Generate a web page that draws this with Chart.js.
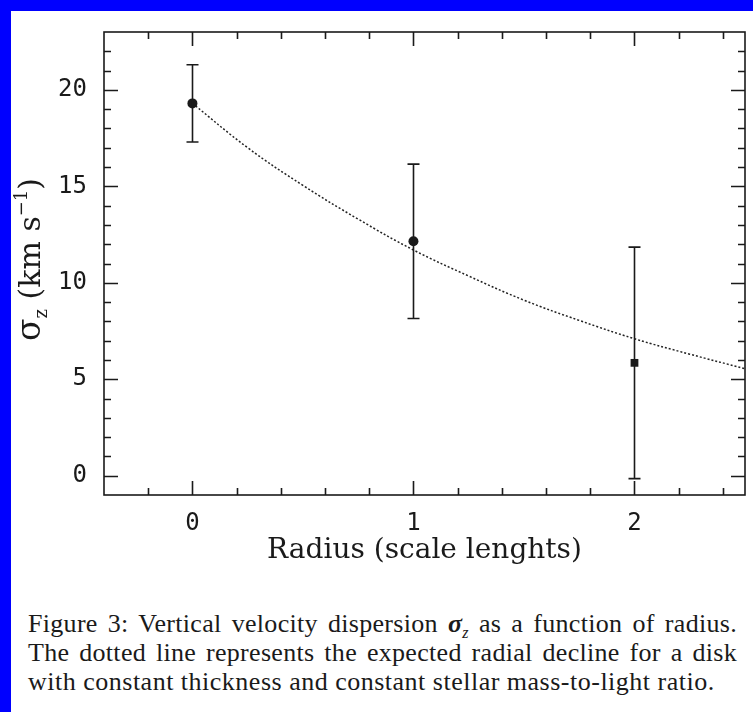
<!DOCTYPE html>
<html>
<head>
<meta charset="utf-8">
<title>Vertical velocity dispersion</title>
<script src="https://cdn.jsdelivr.net/npm/chart.js@4/dist/chart.umd.min.js"></script>
<style>
  html, body { margin: 0; padding: 0; }
  body { width: 753px; height: 712px; background: #0000ff; position: relative; overflow: hidden; }
  #panel { position: absolute; left: 11px; top: 11px; right: 0; bottom: 0; background: #fff; }
  #wrap { position: absolute; left: 0; top: 0; width: 753px; height: 590px; }
  #caption {
    position: absolute; left: 28px; top: 609px; width: 709px;
    font-family: "Liberation Serif", "Times New Roman", serif;
    font-size: 26px; line-height: 29px; letter-spacing: 0.3px; color: #1a1a1a;
  }
  #caption div { text-align: justify; text-align-last: justify; white-space: nowrap; height: 29px; }
  #caption div.last { text-align: left; text-align-last: left; letter-spacing: 0.5px; }
  #caption sub { font-size: 16px; line-height: 0; }
</style>
</head>
<body>
<div id="panel"></div>
<div id="wrap"><canvas id="sigmaChart"></canvas></div>
<div id="caption">
  <div>Figure 3: Vertical velocity dispersion <b><i>σ</i></b><sub><i>z</i></sub> as a function of radius.</div>
  <div>The dotted line represents the expected radial decline for a disk</div>
  <div class="last">with constant thickness and constant stellar mass-to-light ratio.</div>
</div>
<script>
// measured dispersion with 1-sigma errors
const radius = [0, 1, 2];
const sigma = [19.3, 12.15, 5.85];
const sigmaErr = [2.0, 4.0, 6.0];
const markerStyle = ['circle', 'circle', 'rect'];

// expected decline (dotted curve)
const curveRadius = [0, 0.25, 0.5, 0.75, 1, 1.25, 1.5, 1.75, 2, 2.25, 2.5];
const curveSigma = [19.3, 17.0, 15.05, 13.3, 11.7, 10.35, 9.1, 8.05, 7.1, 6.3, 5.55];

const xTickLabels = [0, 1, 2];
const yTickLabels = [0, 5, 10, 15, 20];

const ink = '#1a1a1a';
const tickFont = { family: 'DejaVu Sans Mono', size: 24 };
const titleFont = { family: 'DejaVu Serif', size: 28 };

// box around the plot with inward ticks on all four sides
const frameTicks = {
  id: 'frameTicks',
  beforeDatasetsDraw(chart) {
    const { ctx, chartArea: a, scales: { x, y } } = chart;
    ctx.save();
    ctx.strokeStyle = ink;
    ctx.lineWidth = 1.6;
    ctx.strokeRect(a.left, a.top, a.right - a.left, a.bottom - a.top);
    ctx.beginPath();
    for (let k = -1; k <= 12; k++) {
      const v = k * 0.2;
      const len = Math.abs(v - Math.round(v)) < 1e-6 ? 14 : 7;
      const px = Math.round(x.getPixelForValue(v)) + 0.5;
      ctx.moveTo(px, a.bottom); ctx.lineTo(px, a.bottom - len);
      ctx.moveTo(px, a.top); ctx.lineTo(px, a.top + len);
    }
    for (let v = 0; v <= 22; v++) {
      const len = v % 5 === 0 ? 14 : 7;
      const py = Math.round(y.getPixelForValue(v)) + 0.5;
      ctx.moveTo(a.left, py); ctx.lineTo(a.left + len, py);
      ctx.moveTo(a.right, py); ctx.lineTo(a.right - len, py);
    }
    ctx.stroke();
    ctx.restore();
  }
};

// vertical error bars with small caps
const errorBars = {
  id: 'errorBars',
  afterDatasetsDraw(chart) {
    const { ctx, scales: { x, y } } = chart;
    ctx.save();
    ctx.strokeStyle = ink;
    ctx.lineWidth = 1.6;
    ctx.beginPath();
    radius.forEach((r, i) => {
      const px = Math.round(x.getPixelForValue(r)) + 0.5;
      const top = y.getPixelForValue(sigma[i] + sigmaErr[i]);
      const bot = y.getPixelForValue(sigma[i] - sigmaErr[i]);
      ctx.moveTo(px, top); ctx.lineTo(px, bot);
      ctx.moveTo(px - 6, top); ctx.lineTo(px + 6, top);
      ctx.moveTo(px - 6, bot); ctx.lineTo(px + 6, bot);
    });
    ctx.stroke();
    ctx.restore();
  }
};

// rotated y title with subscript and superscript
const yTitle = {
  id: 'yTitle',
  afterDraw(chart) {
    const { ctx, chartArea: a } = chart;
    const parts = [
      { t: 'σ', size: 33, dy: 0 },
      { t: 'z', size: 18, dy: 7 },
      { t: ' (km s', size: 30, dy: 0 },
      { t: '−1', size: 18, dy: -13 },
      { t: ')', size: 30, dy: 0 }
    ];
    ctx.save();
    ctx.fillStyle = ink;
    ctx.textBaseline = 'alphabetic';
    let total = 0;
    parts.forEach(p => {
      ctx.font = p.size + 'px "DejaVu Serif"';
      p.w = ctx.measureText(p.t).width;
      total += p.w;
    });
    ctx.translate(30, (a.top + a.bottom) / 2);
    ctx.rotate(-Math.PI / 2);
    let cx = -total / 2 + 4;
    parts.forEach(p => {
      ctx.font = p.size + 'px "DejaVu Serif"';
      ctx.fillText(p.t, cx, 10 + p.dy);
      cx += p.w;
    });
    ctx.restore();
  }
};

new Chart(document.getElementById('sigmaChart'), {
  type: 'scatter',
  data: {
    datasets: [
      {
        label: 'expected decline',
        data: curveRadius.map((r, i) => ({ x: r, y: curveSigma[i] })),
        showLine: true,
        pointRadius: 0,
        borderColor: '#222',
        borderWidth: 1.5,
        borderDash: [2, 2],
        tension: 0.4,
        order: 2
      },
      {
        label: 'sigma_z',
        data: radius.map((r, i) => ({ x: r, y: sigma[i] })),
        pointStyle: markerStyle,
        pointRadius: [5, 5, 5.5],
        backgroundColor: ink,
        borderColor: ink,
        borderWidth: 0,
        order: 1
      }
    ]
  },
  options: {
    responsive: true,
    maintainAspectRatio: false,
    animation: false,
    layout: { padding: { top: 32, right: 8, left: 0, bottom: 0 } },
    plugins: { legend: { display: false }, tooltip: { enabled: false } },
    scales: {
      x: {
        type: 'linear',
        min: -0.4,
        max: 2.5,
        afterBuildTicks: s => { s.ticks = xTickLabels.map(v => ({ value: v })); },
        afterFit: s => { s.height = 95; },
        grid: { display: false, drawTicks: false },
        border: { display: false },
        ticks: { font: tickFont, color: ink, padding: 14, maxRotation: 0, autoSkip: false },
        title: {
          display: true,
          text: 'Radius (scale lenghts)',
          font: titleFont,
          color: ink,
          padding: { top: 0, bottom: 22 }
        }
      },
      y: {
        min: -1,
        max: 23,
        afterBuildTicks: s => { s.ticks = yTickLabels.map(v => ({ value: v })); },
        afterFit: s => { s.width = 104; },
        grid: { display: false, drawTicks: false },
        border: { display: false },
        ticks: { font: tickFont, color: ink, padding: 17, autoSkip: false }
      }
    }
  },
  plugins: [frameTicks, errorBars, yTitle]
});
</script>
</body>
</html>
